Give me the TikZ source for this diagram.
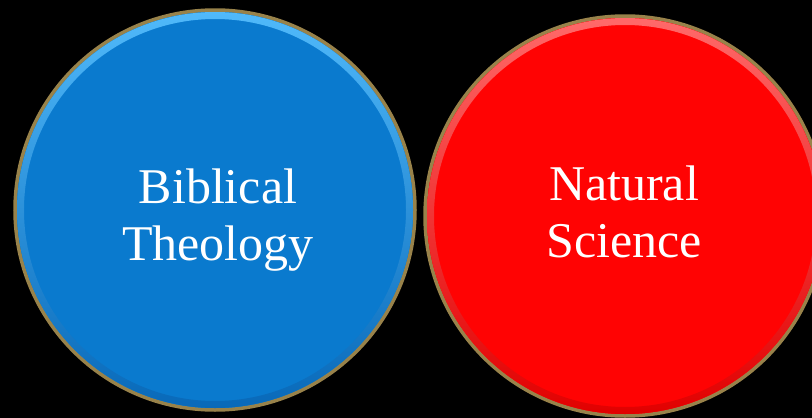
\documentclass[tikz,border=0pt]{standalone}
\usepackage{tikz}
\usepackage{fontspec}
\setmainfont{Liberation Serif}
\definecolor{bibblue}{RGB}{10,122,206}
\definecolor{bibglow}{RGB}{80,185,250}
\definecolor{bibdark}{RGB}{8,105,185}
\definecolor{natred}{RGB}{255,3,3}
\definecolor{natglow}{RGB}{255,105,105}
\definecolor{natdark}{RGB}{225,0,0}
\definecolor{rim}{RGB}{152,130,74}
\tikzset{
    disc/.style={circle,draw=rim,line width=3.5pt,minimum size=400pt,inner sep=0pt},
    caption/.style={text=white,align=center,font=\fontsize{50}{57}\selectfont}
}

\begin{document}
\begin{tikzpicture}[x=1pt,y=-1pt]
\fill[black] (0,0) rectangle (812,418);
\clip (0,0) rectangle (812,418);
\node[disc,fill=bibblue] (bib) at (215,210) {};
\node[disc,fill=natred] (nat) at (625,216) {};
% bevel just inside the rim
\shade[top color=bibglow,bottom color=bibdark,even odd rule] (bib.center) circle (198pt) (bib.center) circle (191pt);
\shade[top color=natglow,bottom color=natdark,even odd rule] (nat.center) circle (198pt) (nat.center) circle (191pt);
\node[caption] (bibtxt) at (218,220) {Biblical\\Theology};
\node[caption] (nattxt) at (624,212) {Natural\\Science};
\end{tikzpicture}
\end{document}
